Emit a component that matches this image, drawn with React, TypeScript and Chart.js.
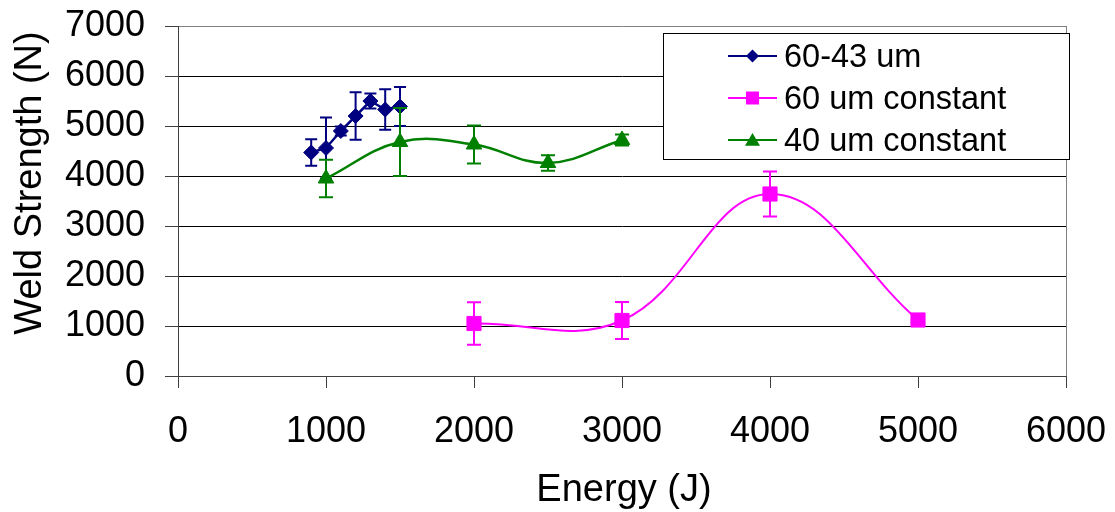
import React, { useEffect, useRef } from "react";
import { Chart, registerables } from "chart.js";

Chart.register(...registerables);

// ---- data ----
const seriesNames = ["60-43 um", "60 um constant", "40 um constant"];
const seriesColors = ["#000080", "#FF00FF", "#008000"];

const blueEnergy = [900, 1000, 1100, 1200, 1300, 1400, 1500];
const blueStrength = [4470, 4560, 4900, 5200, 5500, 5330, 5390];
const blueError = [265, 610, 90, 475, 150, 405, 390];

const pinkEnergy = [2000, 3000, 4000, 5000];
const pinkStrength = [1050, 1110, 3640, 1120];
const pinkError = [425, 370, 450, 60];

const greenEnergy = [1000, 1500, 2000, 2500, 3000];
const greenStrength = [3950, 4680, 4630, 4260, 4720];
const greenError = [375, 680, 380, 155, 110];

const xTicks = [0, 1000, 2000, 3000, 4000, 5000, 6000];
const yTicks = [0, 1000, 2000, 3000, 4000, 5000, 6000, 7000];

const xTitle = "Energy (J)";
const yTitle = "Weld Strength (N)";

const FONT = "'Liberation Sans', Arial, sans-serif";

const toPoints = (xs: number[], ys: number[]) => xs.map((x, i) => ({ x, y: ys[i] }));

const errorBarPlugin = {
  id: "errorBars",
  beforeDatasetDraw(chart: any, args: any) {
    const ds = chart.data.datasets[args.index];
    const errs: number[] | undefined = ds.errors;
    if (!errs) return;
    const ys = chart.scales.y;
    const ctx = chart.ctx;
    const cap = ds.capHalf || 6;
    ctx.save();
    ctx.strokeStyle = ds.borderColor;
    ctx.lineWidth = 2;
    args.meta.data.forEach((pt: any, i: number) => {
      const e = errs[i];
      if (!e) return;
      const v = ds.data[i].y;
      const top = ys.getPixelForValue(v + e);
      const bot = ys.getPixelForValue(v - e);
      const x = pt.x;
      ctx.beginPath();
      ctx.moveTo(x, top);
      ctx.lineTo(x, bot);
      ctx.moveTo(x - cap, top);
      ctx.lineTo(x + cap, top);
      ctx.moveTo(x - cap, bot);
      ctx.lineTo(x + cap, bot);
      ctx.stroke();
    });
    ctx.restore();
  },
};

function drawMarker(ctx: CanvasRenderingContext2D, style: string, x: number, y: number, r: number, color: string) {
  ctx.fillStyle = color;
  ctx.beginPath();
  if (style === "rectRot") {
    ctx.moveTo(x, y - r);
    ctx.lineTo(x + r, y);
    ctx.lineTo(x, y + r);
    ctx.lineTo(x - r, y);
  } else if (style === "rect") {
    ctx.rect(x - r, y - r, 2 * r, 2 * r);
  } else {
    const h = r * 1.7;
    ctx.moveTo(x, y - h * 0.55);
    ctx.lineTo(x + r, y + h * 0.45);
    ctx.lineTo(x - r, y + h * 0.45);
  }
  ctx.closePath();
  ctx.fill();
}

const legendStyles = ["rectRot", "rect", "triangle"];
const legendMarkerSizes = [6.5, 6.5, 7.5];

const overlayPlugin = {
  id: "overlay",
  afterDraw(chart: any) {
    const ctx: CanvasRenderingContext2D = chart.ctx;
    const area = chart.chartArea;
    ctx.save();
    // legend box
    const boxRight = area.right + 3;
    const boxTop = area.top + 7;
    const boxW = 406;
    const boxH = 126;
    const boxLeft = boxRight - boxW;
    ctx.fillStyle = "#ffffff";
    ctx.fillRect(boxLeft, boxTop, boxW, boxH);
    ctx.strokeStyle = "#000000";
    ctx.lineWidth = 1;
    ctx.strokeRect(boxLeft + 0.5, boxTop + 0.5, boxW, boxH);
    ctx.font = `32.5px ${FONT}`;
    ctx.textAlign = "left";
    ctx.textBaseline = "alphabetic";
    seriesNames.forEach((name, i) => {
      const cy = boxTop + 23 + i * 42;
      const color = seriesColors[i];
      ctx.strokeStyle = color;
      ctx.lineWidth = 2;
      ctx.beginPath();
      ctx.moveTo(boxLeft + 65, cy);
      ctx.lineTo(boxLeft + 114, cy);
      ctx.stroke();
      drawMarker(ctx, legendStyles[i], boxLeft + 89.5, cy, legendMarkerSizes[i], color);
      ctx.fillStyle = "#000000";
      ctx.fillText(name, boxLeft + 121, cy + 11);
    });
    // axis titles
    ctx.fillStyle = "#000000";
    ctx.font = `38px ${FONT}`;
    ctx.textAlign = "center";
    ctx.textBaseline = "alphabetic";
    ctx.fillText(xTitle, (area.left + area.right) / 2 + 2, 501);
    ctx.translate(41, 183);
    ctx.rotate(-Math.PI / 2);
    ctx.fillText(yTitle, 0, 0);
    ctx.restore();
  },
};

export default function App() {
  const canvasRef = useRef<HTMLCanvasElement | null>(null);

  useEffect(() => {
    if (!canvasRef.current) return;
    const chart = new Chart(canvasRef.current, {
      type: "scatter",
      data: {
        datasets: [
          {
            label: seriesNames[0],
            data: toPoints(blueEnergy, blueStrength),
            showLine: true,
            tension: 0,
            borderColor: seriesColors[0],
            backgroundColor: seriesColors[0],
            borderWidth: 2.5,
            pointStyle: "rectRot",
            pointRadius: 7.5,
            pointBorderWidth: 1,
            order: 2,
            errors: blueError,
            capHalf: 6,
          } as any,
          {
            label: seriesNames[1],
            data: toPoints(pinkEnergy, pinkStrength),
            showLine: true,
            tension: 0.4,
            borderColor: seriesColors[1],
            backgroundColor: seriesColors[1],
            borderWidth: 2,
            pointStyle: "rect",
            pointRadius: 10,
            pointBorderWidth: 1,
            order: 1,
            errors: pinkError,
            capHalf: 7,
          } as any,
          {
            label: seriesNames[2],
            data: toPoints(greenEnergy, greenStrength),
            showLine: true,
            tension: 0.4,
            borderColor: seriesColors[2],
            backgroundColor: seriesColors[2],
            borderWidth: 2.5,
            pointStyle: "triangle",
            pointRadius: 9,
            pointBorderWidth: 1,
            order: 0,
            errors: greenError,
            capHalf: 7,
          } as any,
        ],
      },
      options: {
        animation: false,
        responsive: true,
        maintainAspectRatio: false,
        layout: { padding: { left: 0, top: 26, right: 49, bottom: 0 } },
        plugins: {
          legend: { display: false },
          tooltip: { enabled: false },
        },
        scales: {
          x: {
            type: "linear",
            min: xTicks[0],
            max: xTicks[xTicks.length - 1],
            afterBuildTicks: (scale: any) => {
              scale.ticks = xTicks.map((v) => ({ value: v }));
            },
            afterFit: (scale: any) => {
              scale.height = 136;
              scale.paddingLeft = 0;
              scale.paddingRight = 0;
            },
            ticks: {
              font: { family: FONT, size: 36 },
              color: "#000000",
              padding: 22,
              maxRotation: 0,
              autoSkip: false,
              callback: (v: any) => String(v),
            },
            grid: {
              color: (c: any) => (c.tick && c.tick.value === 6000 ? "#808080" : "rgba(0,0,0,0)"),
              tickColor: "#404040",
              tickLength: 12,
              lineWidth: 1,
            },
            border: { display: true, color: "#404040", width: 1 },
            title: { display: false },
          },
          y: {
            type: "linear",
            min: yTicks[0],
            max: yTicks[yTicks.length - 1],
            afterBuildTicks: (scale: any) => {
              scale.ticks = yTicks.map((v) => ({ value: v }));
            },
            afterFit: (scale: any) => {
              scale.width = 178;
              scale.paddingTop = 0;
              scale.paddingBottom = 0;
            },
            ticks: {
              font: { family: FONT, size: 36 },
              color: "#000000",
              padding: 20,
              autoSkip: false,
              callback: (v: any) => String(v),
            },
            grid: {
              color: (c: any) => (c.tick && c.tick.value === 7000 ? "#808080" : "#000000"),
              tickColor: "#404040",
              tickLength: 13,
              lineWidth: 1,
            },
            border: { display: true, color: "#404040", width: 1 },
            title: { display: false },
          },
        },
      } as any,
      plugins: [errorBarPlugin, overlayPlugin],
    });
    return () => chart.destroy();
  }, []);

  return (
    <div style={{ position: "absolute", left: 0, top: 0, width: 1115, height: 512, background: "#ffffff" }}>
      <canvas ref={canvasRef} />
    </div>
  );
}
